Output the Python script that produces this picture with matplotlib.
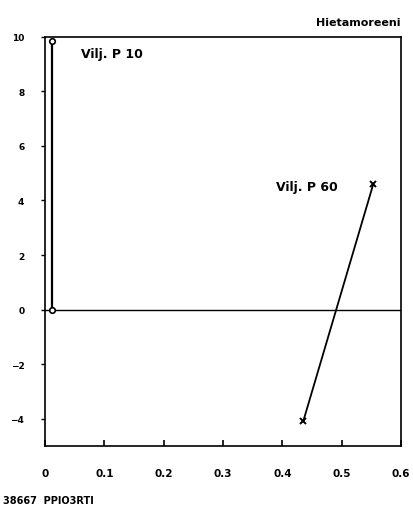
import matplotlib
matplotlib.use("Agg")
import matplotlib.pyplot as plt

# Vilj. P 10
p10_x = [0.012, 0.012]
p10_y = [0.0, 9.85]
# Vilj. P 60
p60_x = [0.435, 0.553]
p60_y = [-4.1, 4.6]

xticks = [0, 0.1, 0.2, 0.3, 0.4, 0.5, 0.6]
xlabels = ["0", "0.1", "0.2", "0.3", "0.4", "0.5", "0.6"]
yticks = [10, 8, 6, 4, 2, 0, -2, -4]

fig = plt.figure(figsize=(4.14, 5.06), dpi=100)
ax = fig.add_axes([0.109, 0.117, 0.86, 0.808])

ax.axhline(0, color="black", linewidth=1.0)
ax.plot(p10_x, p10_y, color="black", linewidth=1.6, marker="o", markersize=4,
        markerfacecolor="white", markeredgewidth=1.2)
ax.plot(p60_x, p60_y, color="black", linewidth=1.3, marker="x", markersize=5,
        markeredgewidth=1.4)

ax.text(0.06, 9.4, "Vilj. P 10", fontsize=9, fontweight="bold", ha="left", va="center")
ax.text(0.493, 4.5, "Vilj. P 60", fontsize=9, fontweight="bold", ha="right", va="center")

ax.set_xlim(0, 0.6)
ax.set_ylim(-5, 10)
ax.set_xticks(xticks)
ax.set_xticklabels(xlabels)
ax.set_yticks(yticks)
ax.tick_params(axis="x", direction="in", length=4, width=1.2, labelsize=7.5, pad=16)
ax.tick_params(axis="y", direction="out", length=3, width=1.0, labelsize=6.5, pad=12)
for lab in ax.get_xticklabels() + ax.get_yticklabels():
    lab.set_fontweight("bold")
for s in ax.spines.values():
    s.set_linewidth(1.2)

fig.text(0.968, 0.955, "Hietamoreeni", fontsize=8, fontweight="bold", ha="right", va="center")
fig.text(0.008, 0.01, "38667  PPIO3RTI", fontsize=7, fontweight="bold", ha="left", va="center")

fig.savefig("out.png", dpi=100)
